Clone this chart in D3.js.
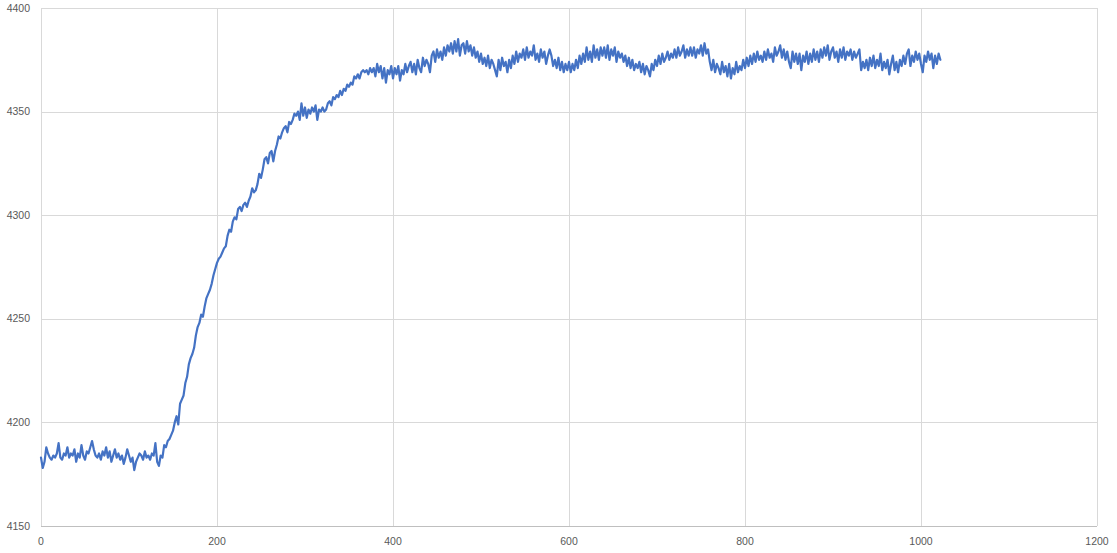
<!DOCTYPE html>
<html>
<head>
<meta charset="utf-8">
<script src="https://cdn.jsdelivr.net/npm/d3@7"></script>
<style>
html,body{margin:0;padding:0;background:#fff;}
svg{display:block;}
</style>
</head>
<body>
<svg id="chart" width="1117" height="553"></svg>
<script>
// Sample positions step (x axis units) and sampled series values
const xStep = 2;
const seriesValues = [
4183,4178,4181,4188,4185,4183,4182,4184,4183,4185,
4190,4183,4182,4185,4184,4188,4183,4185,4184,4187,
4181,4185,4183,4189,4184,4182,4186,4185,4188,4191,
4187,4184,4183,4185,4182,4186,4184,4188,4183,4186,
4181,4184,4187,4183,4185,4182,4184,4180,4183,4187,
4184,4181,4183,4177,4181,4183,4185,4184,4182,4186,
4183,4184,4182,4185,4184,4190,4181,4179,4184,4183,
4189,4188,4191,4192,4194,4196,4200,4203,4199,4209,
4211,4213,4219,4222,4228,4231,4233,4236,4242,4246,
4248,4252,4251,4256,4260,4262,4264,4267,4271,4274,
4277,4279,4280,4282,4284,4285,4290,4293,4292,4297,
4299,4298,4303,4304,4302,4305,4306,4304,4307,4309,
4313,4311,4312,4315,4320,4318,4322,4327,4328,4325,
4330,4331,4326,4331,4334,4338,4337,4340,4342,4343,
4340,4345,4344,4346,4349,4348,4350,4346,4354,4348,
4352,4347,4351,4349,4352,4350,4353,4346,4351,4350,
4352,4350,4351,4354,4355,4353,4357,4356,4358,4357,
4360,4358,4361,4360,4363,4362,4364,4363,4367,4366,
4368,4366,4369,4370,4369,4370,4368,4371,4369,4371,
4367,4373,4369,4372,4366,4371,4364,4370,4368,4372,
4366,4371,4368,4372,4365,4370,4368,4373,4369,4372,
4374,4369,4373,4368,4375,4371,4369,4376,4372,4375,
4373,4369,4377,4379,4374,4380,4376,4379,4375,4381,
4377,4382,4379,4383,4378,4384,4379,4385,4377,4382,
4383,4378,4384,4379,4382,4377,4381,4376,4379,4374,
4378,4373,4376,4372,4377,4371,4375,4373,4370,4367,
4375,4370,4376,4372,4374,4369,4375,4371,4377,4373,
4379,4374,4378,4376,4380,4375,4381,4376,4379,4377,
4382,4375,4378,4374,4380,4376,4379,4373,4377,4380,
4377,4372,4375,4371,4376,4370,4374,4369,4373,4370,
4374,4369,4373,4370,4375,4371,4377,4373,4378,4374,
4381,4375,4379,4374,4382,4376,4380,4375,4381,4377,
4381,4376,4382,4375,4380,4377,4381,4374,4379,4376,
4378,4374,4377,4372,4376,4371,4375,4370,4373,4371,
4374,4369,4373,4368,4372,4370,4367,4373,4370,4375,
4372,4377,4373,4378,4374,4376,4379,4375,4378,4376,
4380,4376,4381,4377,4379,4382,4376,4380,4377,4381,
4377,4381,4376,4380,4378,4382,4377,4383,4378,4380,
4374,4370,4375,4369,4373,4371,4368,4374,4369,4372,
4367,4373,4366,4371,4368,4374,4369,4372,4370,4375,
4371,4376,4372,4377,4373,4378,4374,4379,4375,4377,
4374,4379,4375,4380,4376,4378,4374,4381,4377,4379,
4382,4376,4380,4375,4379,4374,4371,4379,4374,4378,
4373,4378,4370,4377,4374,4379,4373,4378,4374,4380,
4375,4379,4374,4380,4376,4381,4377,4382,4375,4379,
4381,4376,4379,4374,4380,4376,4381,4375,4379,4377,
4380,4375,4379,4376,4378,4380,4370,4374,4371,4375,
4370,4376,4372,4377,4371,4375,4372,4378,4370,4374,
4371,4375,4368,4373,4377,4370,4374,4369,4375,4372,
4377,4373,4378,4380,4372,4377,4374,4379,4375,4378,
4373,4369,4377,4374,4379,4375,4378,4371,4377,4373,
4378,4375
];
const xTicks = [0, 200, 400, 600, 800, 1000, 1200];
const yTicks = [4150, 4200, 4250, 4300, 4350, 4400];
const xDomain = [0, 1200];
const yDomain = [4150, 4400];

const svg = d3.select("#chart");
const margin = {left: 41, right: 20, top: 8, bottom: 27};
const W = 1117, H = 553;

const x = d3.scaleLinear().domain(xDomain).range([margin.left, W - margin.right]);
const y = d3.scaleLinear().domain(yDomain).range([H - margin.bottom, margin.top]);

svg.append("rect").attr("width", W).attr("height", H).attr("fill", "#fff");

// horizontal gridlines
svg.append("g")
  .selectAll("line")
  .data(yTicks.filter(d => d !== yDomain[0]))
  .join("line")
  .attr("x1", x(xDomain[0])).attr("x2", x(xDomain[1]))
  .attr("y1", d => Math.round(y(d)) + 0.5).attr("y2", d => Math.round(y(d)) + 0.5)
  .attr("stroke", "#d9d9d9").attr("stroke-width", 1);

// vertical gridlines
svg.append("g")
  .selectAll("line")
  .data(xTicks)
  .join("line")
  .attr("x1", d => Math.round(x(d)) + 0.5).attr("x2", d => Math.round(x(d)) + 0.5)
  .attr("y1", y(yDomain[1])).attr("y2", y(yDomain[0]))
  .attr("stroke", "#d9d9d9").attr("stroke-width", 1);

// bottom axis line
svg.append("line")
  .attr("x1", x(xDomain[0])).attr("x2", x(xDomain[1]))
  .attr("y1", Math.round(y(yDomain[0])) + 0.5).attr("y2", Math.round(y(yDomain[0])) + 0.5)
  .attr("stroke", "#bfbfbf").attr("stroke-width", 1);

// y tick labels
svg.append("g")
  .selectAll("text")
  .data(yTicks)
  .join("text")
  .attr("x", 30)
  .attr("y", d => y(d))
  .attr("dy", "0.35em")
  .attr("text-anchor", "end")
  .attr("font-family", "'Liberation Sans', Arial, sans-serif")
  .attr("font-size", "10.5px")
  .attr("fill", "#595959")
  .text(d => d);

// x tick labels
svg.append("g")
  .selectAll("text")
  .data(xTicks)
  .join("text")
  .attr("x", d => x(d))
  .attr("y", 545)
  .attr("text-anchor", "middle")
  .attr("font-family", "'Liberation Sans', Arial, sans-serif")
  .attr("font-size", "10.5px")
  .attr("fill", "#595959")
  .text(d => d);

// data line
const points = seriesValues.map((v, i) => [i * xStep, v]);
const line = d3.line().x(d => x(d[0])).y(d => y(d[1]));
svg.append("path")
  .datum(points)
  .attr("d", line)
  .attr("fill", "none")
  .attr("stroke", "#4472C4")
  .attr("stroke-width", 2.2)
  .attr("stroke-linejoin", "round")
  .attr("stroke-linecap", "round");
</script>
</body>
</html>
